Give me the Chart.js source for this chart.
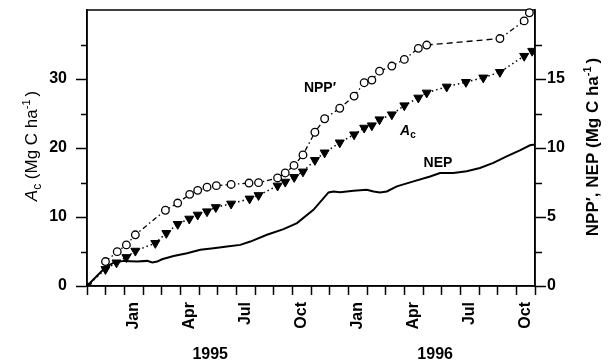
<!DOCTYPE html>
<html><head><meta charset="utf-8">
<script src="https://cdn.jsdelivr.net/npm/chart.js@4/dist/chart.umd.min.js"></script>
<style>html,body{margin:0;padding:0;background:#fff;}#wrap{width:610px;height:362px;}</style>
</head><body><div id="wrap"><canvas id="c" width="610" height="362"></canvas></div>
<script>
// x values: months since 1 Nov 1994
const monthLabels = ['Jan','Apr','Jul','Oct','Jan','Apr','Jul','Oct'];
const monthLabelPos = [2.5,5.5,8.5,11.5,14.5,17.5,20.5,23.5];
const yearLabels = ['1995','1996'];
const yearLabelPos = [6.6,18.65];
const leftTicks = [0,5,10,15,20,25,30,35];
const rightTicks = [0,2.5,5,7.5,10,12.5,15,17.5];

const acX = [0,0.99,1.58,2.11,2.59,3.66,4.25,4.86,5.48,5.93,6.43,6.90,7.72,8.71,9.19,10.21,10.62,11.10,11.57,12.21,12.73,13.54,14.31,14.85,15.26,15.67,16.33,17.00,17.75,18.20,19.27,20.30,21.23,22.12,23.42,23.85];
const acY = [0,2.43,3.39,4.17,5.09,6.21,7.66,8.97,9.74,10.32,10.80,11.41,11.92,12.65,13.15,14.53,15.09,15.77,16.57,18.24,19.33,20.78,21.95,22.92,23.26,24.13,24.85,26.16,27.28,28.01,28.88,29.55,30.19,31.00,33.33,34.06];

const nppX = [0.99,1.62,2.11,2.59,4.20,4.86,5.50,5.93,6.43,6.93,7.72,8.68,9.19,10.21,10.62,11.09,11.57,12.21,12.73,13.54,14.31,14.85,15.26,15.67,16.33,17.00,17.75,18.20,22.12,23.42,23.70];
const nppY = [1.77,2.49,2.98,3.71,5.49,6.01,6.64,6.93,7.16,7.27,7.36,7.46,7.49,7.83,8.19,8.74,9.50,11.14,12.12,12.88,13.76,14.73,14.92,15.57,15.94,16.42,17.22,17.46,17.93,19.21,19.80];

const nepX = [0,0.99,1.43,1.97,2.69,3.22,3.50,3.76,4.02,4.64,5.36,6.07,6.78,7.50,8.21,8.75,9.64,10.53,11.25,12.13,12.94,13.20,13.56,14.28,14.99,15.35,15.70,16.06,16.60,17.49,18.38,18.91,19.63,20.34,21.05,21.77,22.48,23.19,23.73,24.0];
const nepY = [0,1.36,1.69,1.82,1.77,1.82,1.70,1.77,1.94,2.18,2.38,2.62,2.74,2.86,2.98,3.22,3.71,4.12,4.56,5.52,6.78,6.85,6.80,6.90,6.98,6.85,6.78,6.85,7.22,7.58,7.94,8.19,8.19,8.31,8.55,8.92,9.40,9.83,10.20,10.25];

const FF = '"Liberation Sans", Arial, Helvetica, sans-serif';
const pts = (xs, ys) => xs.map((x, i) => ({x, y: ys[i]}));

function drawRich(ctx, parts, x, y, angle, align) {
  ctx.save();
  ctx.translate(x, y);
  ctx.rotate(angle);
  ctx.fillStyle = '#000';
  ctx.textBaseline = 'alphabetic';
  ctx.textAlign = 'left';
  let total = 0;
  parts.forEach(p => { ctx.font = p.font; p.w = ctx.measureText(p.t).width + (p.dx || 0); total += p.w; });
  let cx = align === 'center' ? -total / 2 : 0;
  parts.forEach(p => { ctx.font = p.font; ctx.fillText(p.t, cx + (p.dx || 0), p.dy || 0); cx += p.w; });
  ctx.restore();
}

const decor = {
  id: 'decor',
  beforeDatasetsDraw(chart) {
    const {ctx, chartArea: a} = chart;
    ctx.save();
    ctx.strokeStyle = '#000';
    ctx.lineWidth = 1.5;
    ctx.strokeRect(a.left, a.top, a.right - a.left, a.bottom - a.top);
    ctx.restore();
  },
  afterDraw(chart) {
    const {ctx, chartArea: a, scales} = chart;
    ctx.save();
    ctx.strokeStyle = '#000';
    ctx.lineWidth = 1.5;
    ctx.beginPath();
    leftTicks.filter(v => v % 10 !== 0).forEach(v => {
      const y = Math.round(scales.y.getPixelForValue(v)) + 0.5;
      ctx.moveTo(a.left - 6, y); ctx.lineTo(a.left, y);
    });
    rightTicks.filter(v => v % 5 !== 0).forEach(v => {
      const y = Math.round(scales.y2.getPixelForValue(v)) + 0.5;
      ctx.moveTo(a.right, y); ctx.lineTo(a.right + 7, y);
    });
    ctx.stroke();
    ctx.restore();
    drawRich(ctx, [
      {t: 'A', font: 'italic 17px ' + FF},
      {t: 'c', font: '12px ' + FF, dy: 4},
      {t: ' (Mg C ha', font: '17px ' + FF},
      {t: '-1', font: '11px ' + FF, dy: -7},
      {t: ')', font: '17px ' + FF, dx: 3}
    ], 37, 146, -Math.PI / 2, 'center');
    drawRich(ctx, [
      {t: 'NPP\u2032, NEP (Mg C ha', font: 'bold 17px ' + FF},
      {t: '-1', font: 'bold 11px ' + FF, dy: -7},
      {t: ')', font: 'bold 17px ' + FF, dx: 3}
    ], 598, 147, -Math.PI / 2, 'center');
    const px = scales.x, yl = scales.y, yr = scales.y2;
    drawRich(ctx, [{t: 'NPP\u2032', font: 'bold 14px ' + FF}],
      px.getPixelForValue(12.48), yr.getPixelForValue(14.4) + 5, 0, 'center');
    drawRich(ctx, [{t: 'A', font: 'italic bold 14px ' + FF}, {t: 'c', font: 'bold 10px ' + FF, dy: 3}],
      px.getPixelForValue(16.77), yl.getPixelForValue(22.6) + 5, 0, 'left');
    drawRich(ctx, [{t: 'NEP', font: 'bold 14px ' + FF}],
      px.getPixelForValue(18.8), yr.getPixelForValue(9.0) + 5, 0, 'center');
  }
};

new Chart(document.getElementById('c'), {
  type: 'line',
  data: {
    datasets: [
      {
        label: 'NPP\u2032', data: pts(nppX, nppY), yAxisID: 'y2',
        borderColor: '#000', borderWidth: 1.3, borderDash: [5, 3, 1.5, 3],
        segment: { borderDash: c => c.p0DataIndex === 27 ? [6, 4] : undefined },
        pointStyle: 'circle', pointRadius: 3.8, pointBorderWidth: 1.3,
        pointBackgroundColor: '#fff', pointBorderColor: '#000', clip: false, tension: 0
      },
      {
        label: 'Ac', data: pts(acX, acY), yAxisID: 'y',
        borderColor: '#000', borderWidth: 1.5, borderDash: [1.5, 3],
        pointStyle: 'triangle', pointRotation: 180, pointRadius: 5.2, pointBorderWidth: 1,
        pointBackgroundColor: '#000', pointBorderColor: '#000', tension: 0
      },
      {
        label: 'NEP', data: pts(nepX, nepY), yAxisID: 'y2',
        borderColor: '#000', borderWidth: 2, pointRadius: 0, tension: 0
      }
    ]
  },
  options: {
    responsive: false, animation: false, devicePixelRatio: 1,
    layout: { padding: 0 },
    plugins: { legend: { display: false }, tooltip: { enabled: false } },
    scales: {
      x: {
        type: 'linear', position: 'bottom', min: 0, max: 24, weight: 0,
        afterBuildTicks: s => {
          const v = [];
          for (let i = 0; i <= 24; i++) v.push(i);
          monthLabelPos.forEach(p => v.push(p));
          v.sort((a, b) => a - b);
          s.ticks = v.map(value => ({value}));
        },
        afterFit: s => { s.height = 50; s.paddingLeft = 0; s.paddingRight = 0; },
        ticks: {
          autoSkip: false, minRotation: 90, maxRotation: 90, padding: 7, color: '#000',
          font: { family: FF, size: 16, weight: 'bold' },
          callback: v => { const i = monthLabelPos.indexOf(v); return i >= 0 ? monthLabels[i] : ''; }
        },
        grid: {
          drawOnChartArea: false, tickLength: 9, tickWidth: 1.5,
          tickColor: c => Number.isInteger(c.tick.value) ? '#000' : 'rgba(0,0,0,0)'
        },
        border: { display: true, color: '#000', width: 1.5 }
      },
      x2: {
        type: 'linear', position: 'bottom', min: 0, max: 24, weight: 1,
        afterBuildTicks: s => { s.ticks = yearLabelPos.map(value => ({value})); },
        afterFit: s => { s.height = 26; s.paddingLeft = 0; s.paddingRight = 0; },
        ticks: {
          autoSkip: false, maxRotation: 0, minRotation: 0, padding: 9, color: '#000',
          font: { family: FF, size: 16, weight: 'bold' },
          callback: v => { const i = yearLabelPos.indexOf(v); return i >= 0 ? yearLabels[i] : ''; }
        },
        grid: { display: false, drawTicks: false },
        border: { display: false }
      },
      y: {
        type: 'linear', position: 'left', min: 0, max: 40,
        afterBuildTicks: s => { s.ticks = leftTicks.map(value => ({value})); },
        afterFit: s => { s.width = 87; s.paddingTop = 10; s.paddingBottom = 0; },
        ticks: {
          padding: 9, color: '#000', font: { family: FF, size: 16, weight: 'bold' },
          callback: v => v % 10 === 0 ? String(v) : ''
        },
        grid: {
          drawOnChartArea: false, tickLength: 11, tickWidth: 1.5,
          tickColor: c => (c.tick && c.tick.value % 10 === 0) ? '#000' : 'rgba(0,0,0,0)'
        },
        border: { display: true, color: '#000', width: 1.5 }
      },
      y2: {
        type: 'linear', position: 'right', min: 0, max: 20,
        afterBuildTicks: s => { s.ticks = rightTicks.map(value => ({value})); },
        afterFit: s => { s.width = 75; s.paddingTop = 10; s.paddingBottom = 0; },
        ticks: {
          padding: 1, color: '#000', font: { family: FF, size: 16, weight: 'bold' },
          callback: v => v % 5 === 0 ? String(v) : ''
        },
        grid: {
          drawOnChartArea: false, tickLength: 11, tickWidth: 1.5,
          tickColor: c => (c.tick && c.tick.value % 5 === 0) ? '#000' : 'rgba(0,0,0,0)'
        },
        border: { display: true, color: '#000', width: 1.5 }
      }
    }
  },
  plugins: [decor]
});
</script>
</body></html>
